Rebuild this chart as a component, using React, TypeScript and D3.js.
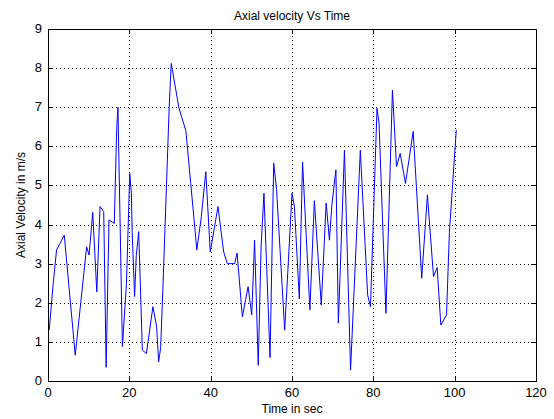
import React, { useEffect, useRef } from "react";
import * as d3 from "d3";

// sample times (s) and axial velocity (m/s)
const times = [
  0.3, 1.2, 2.1, 4.0, 6.7, 9.5, 10.1, 11.0, 12.0, 12.8, 13.7, 14.3, 15.0, 16.3,
  16.9, 17.2, 18.3, 19.3, 20.1, 20.5, 20.7, 21.3, 21.7, 22.3, 23.2, 24.2, 25.8,
  26.7, 27.2, 27.7, 28.3, 29.8, 30.3, 32.2, 33.9, 35.1, 36.6, 37.7, 38.8, 39.9,
  41.8, 43.2, 44.1, 45.9, 46.5, 47.8, 49.2, 50.1, 50.8, 51.7, 52.4, 53.1, 54.6,
  55.5, 56.2, 58.2, 60.0, 60.6, 61.8, 62.6, 64.4, 65.5, 67.2, 68.4, 69.2, 69.8,
  70.8, 71.4, 72.9, 74.4, 76.8, 78.6, 79.3, 80.9, 81.4, 83.1, 84.7, 85.7, 86.6,
  87.9, 89.8, 91.9, 93.3, 94.8, 95.7, 96.6, 98.0, 98.7, 100.4,
];
const velocity = [
  1.3, 2.4, 3.35, 3.73, 0.66, 3.43, 3.22, 4.31, 2.28, 4.46, 4.33, 0.35, 4.12,
  4.03, 6.46, 7.0, 0.88, 2.5, 5.31, 4.8, 3.8, 2.16, 3.2, 3.82, 0.79, 0.7, 1.9,
  1.4, 0.49, 0.85, 2.5, 7.0, 8.12, 6.98, 6.4, 5.05, 3.35, 4.2, 5.35, 3.3, 4.46,
  3.3, 3.0, 3.0, 3.27, 1.64, 2.41, 1.69, 3.6, 0.4, 3.43, 4.8, 0.6, 5.57, 4.9,
  1.3, 4.8, 4.46, 2.1, 5.6, 1.82, 4.61, 1.94, 4.55, 3.6, 4.5, 5.4, 1.48, 5.9,
  0.28, 5.9, 2.2, 1.9, 6.97, 6.6, 1.73, 7.44, 5.48, 5.82, 5.05, 6.38, 2.63,
  4.76, 2.67, 2.9, 1.43, 1.69, 3.8, 6.42,
];
const xTicks = [0, 20, 40, 60, 80, 100, 120];
const yTicks = [0, 1, 2, 3, 4, 5, 6, 7, 8, 9];

const W = 554;
const H = 419;
const margin = { top: 29, right: 18, bottom: 38, left: 48 };

export default function App() {
  const ref = useRef<SVGSVGElement>(null);

  useEffect(() => {
    const svg = d3.select(ref.current);
    svg.selectAll("*").remove();

    const x = d3.scaleLinear().domain([0, 120]).range([margin.left, W - margin.right]);
    const y = d3.scaleLinear().domain([0, 9]).range([H - margin.bottom, margin.top]);
    const font = "'Liberation Sans', Arial, sans-serif";

    svg.append("rect").attr("width", W).attr("height", H).attr("fill", "#fff");

    // dotted grid
    const grid = svg.append("g").attr("stroke", "#000").attr("stroke-width", 1)
      .attr("stroke-dasharray", "1,3").attr("shape-rendering", "crispEdges");
    grid.selectAll(".gx").data(xTicks.slice(1, -1)).join("line")
      .attr("x1", (d) => Math.round(x(d)) + 0.5).attr("x2", (d) => Math.round(x(d)) + 0.5)
      .attr("y1", y(0)).attr("y2", y(9));
    grid.selectAll(".gy").data(yTicks.slice(1, -1)).join("line")
      .attr("y1", (d) => Math.round(y(d)) + 0.5).attr("y2", (d) => Math.round(y(d)) + 0.5)
      .attr("x1", x(0)).attr("x2", x(120));

    // data line
    const line = d3.line<number>()
      .x((_, i) => x(times[i]))
      .y((d) => y(d));
    svg.append("path").datum(velocity)
      .attr("d", line)
      .attr("fill", "none")
      .attr("stroke", "#0000ff")
      .attr("stroke-width", 1);

    // box and inward ticks
    const axes = svg.append("g").attr("stroke", "#000").attr("shape-rendering", "crispEdges");
    axes.append("rect")
      .attr("x", x(0) + 0.5).attr("y", y(9) + 0.5)
      .attr("width", x(120) - x(0)).attr("height", y(0) - y(9))
      .attr("fill", "none");
    const tl = 5;
    xTicks.forEach((t) => {
      const px = Math.round(x(t)) + 0.5;
      axes.append("line").attr("x1", px).attr("x2", px).attr("y1", y(0)).attr("y2", y(0) - tl);
      axes.append("line").attr("x1", px).attr("x2", px).attr("y1", y(9)).attr("y2", y(9) + tl);
    });
    yTicks.forEach((t) => {
      const py = Math.round(y(t)) + 0.5;
      axes.append("line").attr("x1", x(0)).attr("x2", x(0) + tl).attr("y1", py).attr("y2", py);
      axes.append("line").attr("x1", x(120)).attr("x2", x(120) - tl).attr("y1", py).attr("y2", py);
    });

    // tick labels
    svg.append("g").selectAll("text").data(xTicks).join("text")
      .attr("x", (d) => x(d)).attr("y", y(0) + 16)
      .attr("text-anchor", "middle").attr("font-family", font).attr("font-size", 13)
      .attr("fill", "#000").text((d) => d);
    svg.append("g").selectAll("text").data(yTicks).join("text")
      .attr("x", x(0) - 6).attr("y", (d) => y(d) + 4)
      .attr("text-anchor", "end").attr("font-family", font).attr("font-size", 13)
      .attr("fill", "#000").text((d) => d);

    // titles
    svg.append("text").attr("x", (x(0) + x(120)) / 2).attr("y", 20)
      .attr("text-anchor", "middle").attr("font-family", font).attr("font-size", 12)
      .attr("fill", "#000").text("Axial velocity Vs Time");
    svg.append("text").attr("x", (x(0) + x(120)) / 2).attr("y", 413)
      .attr("text-anchor", "middle").attr("font-family", font).attr("font-size", 12)
      .attr("fill", "#000").text("Time in sec");
    svg.append("text")
      .attr("transform", `translate(25, ${(y(0) + y(9)) / 2}) rotate(-90)`)
      .attr("text-anchor", "middle").attr("font-family", font).attr("font-size", 12)
      .attr("fill", "#000").text("Axial Velocity in m/s");
  }, []);

  return (
    <svg ref={ref} width={W} height={H}
      style={{ position: "absolute", left: 0, top: 0, display: "block" }} />
  );
}
